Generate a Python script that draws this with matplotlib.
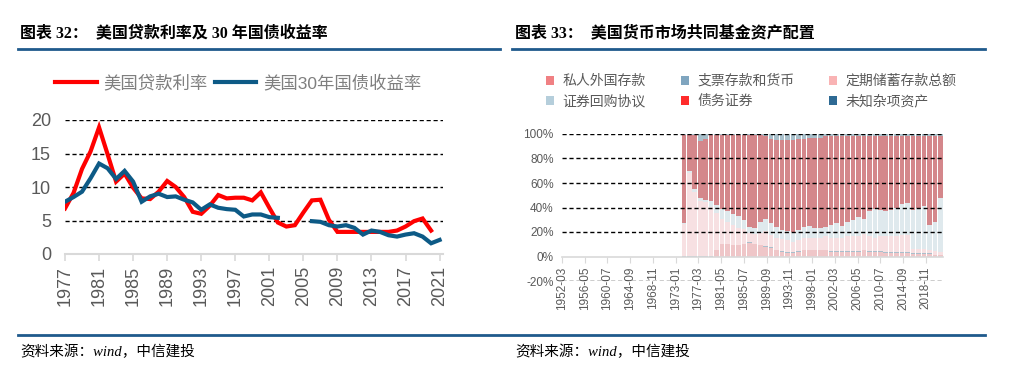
import numpy as np
from matplotlib import pyplot as plt
from matplotlib.patches import Patch
from matplotlib.lines import Line2D

plt.rcParams['font.family'] = ['Liberation Sans', 'Noto Sans CJK SC']

# left chart: US prime loan rate and 30y treasury yield
years = list(range(1977, 2022))
loanRate = [6.8, 9.1, 12.7, 15.3, 18.9, 14.9, 10.8, 12.0, 9.9, 8.3, 8.2, 9.3, 10.9, 10.0,
            8.5, 6.3, 6.0, 7.2, 8.8, 8.3, 8.4, 8.4, 8.0, 9.2, 6.9, 4.7, 4.1, 4.3, 6.2,
            8.0, 8.1, 5.1, 3.3, 3.3, 3.3, 3.3, 3.3, 3.3, 3.3, 3.5, 4.1, 4.9, 5.3, 3.5, np.nan]
bondYield = [7.8, 8.5, 9.3, 11.3, 13.5, 12.8, 11.2, 12.4, 10.8, 7.8, 8.6, 9.0, 8.5, 8.6,
             8.1, 7.7, 6.6, 7.4, 6.9, 6.7, 6.6, 5.6, 5.9, 5.9, 5.5, 5.4, np.nan, np.nan, np.nan,
             4.9, 4.8, 4.3, 4.1, 4.3, 3.9, 2.9, 3.5, 3.3, 2.8, 2.6, 2.9, 3.1, 2.6, 1.6, 2.1]
leftTicks = list(range(1977, 2022, 4))

# right chart: money market fund asset mix, % share, bottom to top
fundYears = list(range(1974, 2022))
foreignDep = [0, 0, 0, 0, 0, 0, 5, 10, 10, 9, 9, 10, 11, 10, 9, 8, 7, 5, 4, 3, 3, 4, 5, 5,
              5, 5, 5, 4, 4, 4, 4, 4, 4, 5, 4, 4, 4, 3, 3, 3, 3, 3, 2, 2, 2, 2, 1, 1]
checkDep = [0.5] * 48
timeDep = [26, 68, 52, 45, 44, 40, 30, 20, 18, 16, 14, 12, 8, 8, 10, 12, 10, 10, 10, 10, 8, 9,
           10, 10, 10, 10, 11, 11, 11, 11, 12, 12, 12, 13, 12, 11, 12, 13, 13, 13, 14, 14,
           4, 4, 4, 3, 3, 2]
repo = [0.5, 1.5, 2.5, 2.5, 1.5, 4.5, 6.5, 8.5, 8.5, 9.5, 9.5, 7.5, 4.5, 4.5, 8.5, 10.5, 9.5,
        8.5, 7.5, 7.5, 8.5, 8.5, 8.5, 9.5, 7.5, 7.5, 7.5, 10.5, 11.5, 9.5, 11.5, 13.5, 15.5,
        12.5, 20.5, 23.5, 21.5, 20.5, 21.5, 23.5, 25.5, 26.5, 31.5, 33.5, 34.5, 20.5, 23.5, 44.5]
debtSec = [72, 29, 44, 46, 50, 54, 57, 60, 62, 64, 66, 69, 75, 76, 71, 67, 69, 71, 73, 74, 75,
           74, 72, 72, 74, 74, 74, 72.5, 71.5, 73.5, 70.5, 68.5, 66.5, 67.5, 61.5, 59.5, 60.5,
           61.5, 60.5, 58.5, 55.5, 54.5, 60.5, 58.5, 57.5, 72.5, 70.5, 50.5]
miscAssets = [1, 1, 1, 6, 4, 1, 1, 1, 1, 1, 1, 1, 1, 1, 1, 2, 4, 5, 5, 5, 5, 4, 4, 3, 3, 3, 2,
              1.5, 1.5, 1.5, 1.5, 1.5, 1.5, 1.5, 1.5, 1.5, 1.5, 1.5, 1.5, 1.5, 1.5, 1.5, 1.5,
              1.5, 1.5, 1.5, 1.5, 1.5]
fundNames = ['私人外国存款', '支票存款和货币', '定期储蓄存款总额', '证券回购协议', '债务证券', '未知杂项资产']
rightTicks = ['1952-03', '1956-05', '1960-07', '1964-09', '1968-11', '1973-01', '1977-03',
              '1981-05', '1985-07', '1989-09', '1993-11', '1998-01', '2002-03', '2006-05',
              '2010-07', '2014-09', '2018-11']

gray = '#595959'
fig = plt.figure(figsize=(10.13, 3.78), dpi=100)

# headers, rules and footers
serifCjk = ['Liberation Serif', 'Noto Sans CJK SC']
fig.text(20 / 1013, 1 - 33 / 378, '图表 32：  美国贷款利率及 30 年国债收益率', family=serifCjk,
         fontsize=11.5, fontweight='bold', va='center')
fig.text(515 / 1013, 1 - 33 / 378, '图表 33：  美国货币市场共同基金资产配置', family=serifCjk,
         fontsize=11.5, fontweight='bold', va='center')
for x0, x1 in [(18, 500), (512, 985)]:
    fig.add_artist(Line2D([x0 / 1013, x1 / 1013], [1 - 49 / 378] * 2, color='#1f5a8c', lw=2))
fig.add_artist(Line2D([18 / 1013, 985 / 1013], [1 - 335 / 378] * 2, color='#1f5a8c', lw=2))
for xs in [20, 515]:
    fig.text(xs / 1013, 1 - 352 / 378, '资料来源：wind，中信建投', family=serifCjk,
             fontsize=10.5, style='italic', va='center')

# left chart
ax = fig.add_axes([65 / 1013, 1 - 254 / 378, 378 / 1013, 134 / 378])
ax.plot(years, loanRate, color='#ff0000', lw=3, solid_joinstyle='miter', label='美国贷款利率')
ax.plot(years, bondYield, color='#0d5a86', lw=3, solid_joinstyle='miter', label='美国30年国债收益率')
ax.set_xlim(1977, 2021.4)
ax.set_ylim(0, 20)
ax.set_yticks([0, 5, 10, 15, 20])
ax.set_xticks(leftTicks)
ax.set_xticklabels([str(y) for y in leftTicks], rotation=90)
for v in [5, 10, 15, 20]:
    ax.axhline(v, color='black', lw=1, ls=(0, (3, 2)), zorder=0)
for s in ['top', 'right', 'left']:
    ax.spines[s].set_visible(False)
ax.spines['bottom'].set_color('#d9d9d9')
ax.spines['bottom'].set_linewidth(1.5)
ax.tick_params(axis='y', length=0, labelsize=13, labelcolor=gray, pad=10)
ax.tick_params(axis='x', length=5, color='#d9d9d9', width=1.2, labelsize=13, labelcolor=gray)
ax.legend(loc='center left', bbox_to_anchor=(55 / 1013, 1 - 83 / 378), bbox_transform=fig.transFigure,
          ncol=2, frameon=False, fontsize=12.5, labelcolor='#7f7f7f', handlelength=2.4,
          handletextpad=0.4, columnspacing=0.4, borderpad=0, borderaxespad=0)

# right chart
barColors = ['#efc6c8', '#a9bfcc', '#f7e0e2', '#dfe9ed', '#d4878b', '#a9c0cb']
legendColors = ['#f08083', '#7fa5bf', '#f9b3b4', '#b5cedb', '#ff2b2b', '#2e6a94']
ax2 = fig.add_axes([562 / 1013, 1 - 281 / 378, 381 / 1013, 147 / 378])
ax2.spines['bottom'].set_position(('data', 0))
bottom = np.zeros(len(fundYears))
xs = np.array(fundYears) + 0.5
for vals, c in zip([foreignDep, checkDep, timeDep, repo, debtSec, miscAssets], barColors):
    ax2.bar(xs, vals, width=0.84, bottom=bottom, color=c, linewidth=0, zorder=1)
    bottom = bottom + np.array(vals)
tickPos = [int(s[:4]) + (int(s[5:]) - 1) / 12 for s in rightTicks]
ax2.set_xticks(tickPos)
ax2.set_xticklabels(rightTicks)
ax2.set_xlim(tickPos[0], 2022)
ax2.set_ylim(-20, 100)
ax2.set_yticks(range(-20, 101, 20))
ax2.set_yticklabels([f'{v}%' for v in range(-20, 101, 20)])
for v in [-20, 20, 40, 60, 80, 100]:
    ax2.axhline(v, color='black', lw=1, ls=(0, (3, 2)), zorder=2)
for s in ['top', 'right', 'left']:
    ax2.spines[s].set_visible(False)
ax2.spines['bottom'].set_color('#d9d9d9')
ax2.spines['bottom'].set_linewidth(1.2)
ax2.tick_params(axis='y', length=0, labelsize=8.5, labelcolor=gray, pad=6)
ax2.tick_params(axis='x', length=4, color='#d9d9d9', labelsize=8.5, labelcolor=gray, labelrotation=90)
# legend fills column by column, so reorder to read row by row
order = [0, 3, 1, 4, 2, 5]
handles = [Patch(facecolor=legendColors[i], edgecolor='none') for i in order]
ax2.legend(handles, [fundNames[i] for i in order], loc='upper left',
           bbox_to_anchor=(546 / 1013, 1 - 74 / 378), bbox_transform=fig.transFigure,
           ncol=3, frameon=False, fontsize=10, labelcolor=gray, handlelength=0.6,
           handleheight=0.6, handletextpad=0.6, columnspacing=2.5, labelspacing=0.45,
           borderpad=0, borderaxespad=0)

fig.savefig('out.png', dpi=100)
